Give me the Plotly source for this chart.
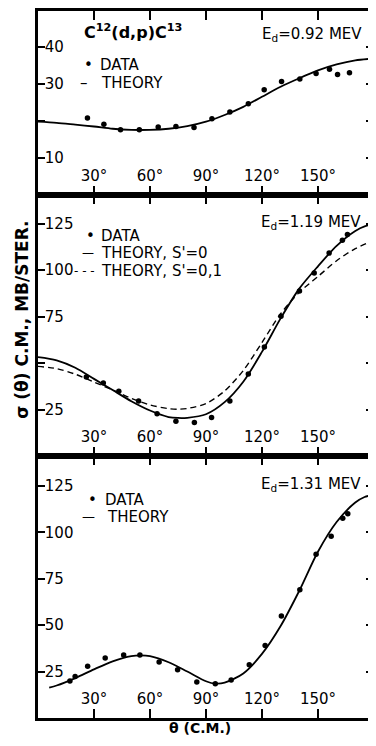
import plotly.graph_objects as go

# ---------------- data ----------------
# Panel 1: E_d = 0.92 MeV
p1_data_theta = [26.5, 35.3, 44.2, 54.3, 64.4, 73.9, 83.6, 93.2, 102.8, 112.7, 121.2, 130.5, 140.3, 149.0, 156.2, 160.5, 166.9]
p1_data_sigma = [20.8, 19.1, 17.6, 17.6, 18.4, 18.5, 18.2, 20.6, 22.4, 24.6, 28.4, 30.6, 31.3, 32.8, 33.9, 32.5, 33.0]
p1_theory_theta = [0, 10, 20, 30, 40, 50, 60, 70, 80, 90, 100, 110, 120, 130, 140, 150, 160, 170, 180]
p1_theory_sigma = [19.8, 19.5, 19.0, 18.5, 17.9, 17.6, 17.6, 17.9, 18.6, 19.8, 21.6, 23.8, 26.5, 29.2, 31.5, 33.6, 35.2, 36.3, 36.8]

# Panel 2: E_d = 1.19 MeV
p2_data_theta = [25.9, 35.0, 43.3, 53.9, 63.8, 73.9, 83.8, 93.0, 102.8, 112.7, 121.3, 130.2, 140.1, 148.0, 156.0, 163.1, 165.8]
p2_data_sigma = [42.5, 39.3, 34.8, 29.6, 22.7, 18.7, 18.0, 20.7, 29.6, 44.1, 58.7, 75.2, 88.7, 98.4, 109.1, 116.0, 119.1]
p2_theory0_theta = [0, 10, 20, 30, 40, 50, 60, 70, 75, 80, 90, 100, 110, 120, 130, 140, 150, 160, 170, 175, 180]
p2_theory0_sigma = [53.2, 51.5, 47.5, 41.5, 35.5, 29.5, 24.5, 21.0, 20.5, 20.6, 22.5, 29.0, 40.0, 56.0, 74.0, 90.0, 102.0, 113.0, 121.0, 123.5, 124.5]
p2_theory01_theta = [0, 10, 20, 30, 40, 50, 60, 70, 75, 80, 90, 100, 110, 120, 130, 140, 150, 160, 170, 180]
p2_theory01_sigma = [48.2, 47.0, 44.0, 39.8, 35.5, 31.0, 27.5, 25.5, 25.2, 25.6, 28.2, 35.0, 46.0, 61.0, 76.5, 88.0, 96.5, 105.0, 111.5, 116.0]

# Panel 3: E_d = 1.31 MeV
p3_data_theta = [17.1, 19.9, 26.6, 36.0, 45.9, 54.6, 64.9, 74.8, 85.1, 95.0, 103.5, 113.2, 121.7, 130.4, 140.3, 149.0, 157.1, 163.3, 166.0]
p3_data_sigma = [19.9, 22.3, 27.8, 32.3, 33.9, 33.9, 30.1, 26.0, 19.4, 18.4, 20.5, 28.7, 39.0, 54.9, 69.0, 88.1, 97.9, 107.5, 110.0]
p3_theory_theta = [6, 10, 20, 30, 40, 50, 55, 60, 70, 80, 90, 95, 100, 110, 120, 130, 140, 150, 160, 170, 175, 180]
p3_theory_sigma = [16.4, 17.5, 21.5, 26.2, 30.5, 33.3, 33.7, 33.3, 30.0, 25.0, 19.8, 18.5, 19.0, 24.0, 34.5, 49.5, 68.5, 89.5, 105.5, 116.0, 119.0, 120.1]

x_tickvals = [30, 60, 90, 120, 150]
x_ticktext = ["30°", "60°", "90°", "120°", "150°"]
p1_ytickvals = [10, 30, 40]
p1_yminor = [20]
p2_ytickvals = [25, 75, 100, 125]
p2_yminor = [50]
p3_ytickvals = [25, 50, 75, 100, 125]

# ---------------- figure ----------------
FONT = "DejaVu Sans"
OFF = 8                      # page offset of the plot div (body margin)
W, H = 376 - OFF, 746 - 2 * OFF
ML, MR, MT, MB = 38 - OFF, 0, 0, 738 - 718
plot_h = H - MT - MB         # page y 8 .. 718
plot_w = W - ML - MR         # page x 38 .. 376
d_bot = (0, 263 / plot_h)
d_mid = (263 / plot_h, 525 / plot_h)
d_top = (525 / plot_h, 1)

def px_x(px):                # page x -> paper fraction
    return (px - 38) / plot_w

def px_y(py):                # page y -> paper fraction
    return (718 - py) / plot_h

fig = go.Figure()

def line(x, y, xa, ya, dash="solid", width=1.8):
    fig.add_trace(go.Scatter(x=x, y=y, mode="lines", xaxis=xa, yaxis=ya,
                             line=dict(color="black", width=width, dash=dash,
                                       shape="spline", smoothing=0.8),
                             showlegend=False, hoverinfo="skip"))

def pts(x, y, xa, ya):
    fig.add_trace(go.Scatter(x=x, y=y, mode="markers", xaxis=xa, yaxis=ya,
                             marker=dict(color="black", size=5.5),
                             showlegend=False, hoverinfo="skip"))

line(p1_theory_theta, p1_theory_sigma, "x", "y")
pts(p1_data_theta, p1_data_sigma, "x", "y")
line(p2_theory0_theta, p2_theory0_sigma, "x2", "y2")
line(p2_theory01_theta, p2_theory01_sigma, "x2", "y2", dash="6px,4px", width=1.4)
pts(p2_data_theta, p2_data_sigma, "x2", "y2")
line(p3_theory_theta, p3_theory_sigma, "x3", "y3")
pts(p3_data_theta, p3_data_sigma, "x3", "y3")

axcommon = dict(showline=True, linewidth=2.6, linecolor="black", mirror="ticks",
                ticks="inside", tickwidth=1.5, tickcolor="black",
                showgrid=False, zeroline=False, ticklabelposition="inside",
                tickfont=dict(family=FONT, size=15, color="black"), fixedrange=True)

XMAX = (376 - 38) / 1.883

def xax(anchor):
    return dict(axcommon, range=[0, XMAX], tickvals=x_tickvals, ticktext=x_ticktext,
                anchor=anchor, domain=[0, 1], ticklen=9, ticklabelstandoff=2)

def yax(anchor, rng, vals, dom, minor=None):
    d = dict(axcommon, range=rng, tickvals=vals, domain=list(dom), anchor=anchor,
             ticklen=7, ticklabelstandoff=0)
    if minor:
        d["minor"] = dict(tickvals=minor, ticks="inside", ticklen=7, tickwidth=1.5,
                          tickcolor="black", showgrid=False)
    return d

fig.update_layout(
    width=W, height=H, margin=dict(l=ML, r=MR, t=MT, b=MB, pad=0),
    paper_bgcolor="white", plot_bgcolor="white",
    font=dict(family=FONT, color="black"),
    xaxis=xax("y"), xaxis2=xax("y2"), xaxis3=xax("y3"),
    yaxis=yax("x", [0, 49.6], p1_ytickvals, d_top, p1_yminor),
    yaxis2=yax("x2", [0, 140.2], p2_ytickvals, d_mid, p2_yminor),
    yaxis3=yax("x3", [0, 141], p3_ytickvals, d_bot),
)

def ann(text, px, py, size=15, xanchor="left", bold=False, **kw):
    fig.add_annotation(text=f"<b>{text}</b>" if bold else text,
                       x=px_x(px), y=px_y(py), xref="paper", yref="paper",
                       showarrow=False, xanchor=xanchor, yanchor="middle",
                       font=dict(family=FONT, size=size, color="black"), **kw)

# Panel 1 labels
ann("C<sup>12</sup>(d,p)C<sup>13</sup>", 82, 29, size=16, bold=True)
ann("E<sub>d</sub>=0.92 MEV", 262, 32, size=15)
ann("•", 82, 62)
ann("DATA", 99, 62)
ann("–", 78, 80)
ann("THEORY", 100, 80)
# Panel 2 labels
ann("E<sub>d</sub>=1.19 MEV", 261, 220)
ann("•", 84, 234)
ann("DATA", 100, 234)
ann("—", 80, 251, size=12)
ann("THEORY, S'=0", 100, 251)
ann("- - -", 72, 269, size=12)
ann("THEORY, S'=0,1", 100, 269)
# Panel 3 labels
ann("E<sub>d</sub>=1.31 MEV", 261, 484)
ann("•", 86, 499)
ann("DATA", 104, 499)
ann("—", 80, 516, size=13)
ann("THEORY", 106, 516)

# Axis titles
ann("σ (θ) C.M., MB/STER.", 22, 318, size=17, xanchor="center", bold=True, textangle=-90)
ann("θ (C.M.)", 201, 728, size=14, xanchor="center", bold=True)

fig.write_html("out.html")
